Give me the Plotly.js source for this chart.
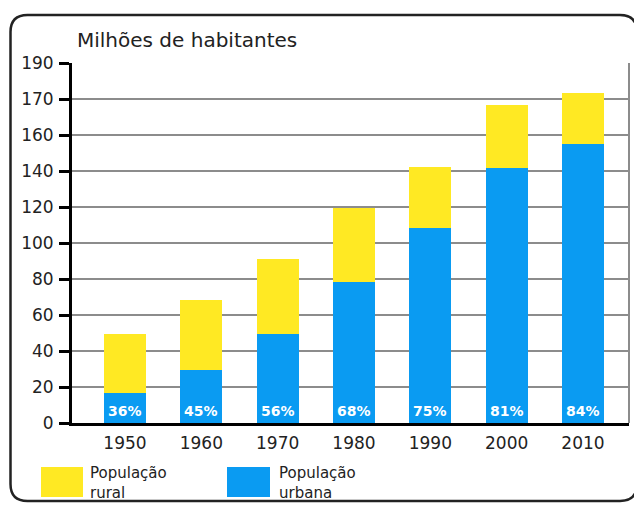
<!DOCTYPE html>
<html>
<head>
<meta charset="utf-8">
<script src="https://cdn.plot.ly/plotly-3.0.1.min.js"></script>
<style>
  html, body { margin: 0; padding: 0; background: #fff; }
  #chart { width: 634px; height: 505px; }
</style>
</head>
<body>
<div id="chart"></div>
<script>
// ---- data (in axis-position units) ----
const years = ['1950', '1960', '1970', '1980', '1990', '2000', '2010'];
const urbana = [16.9, 29.7, 49.7, 78.3, 108.6, 141.7, 155.2];
const rural = [32.8, 38.5, 41.6, 41.4, 33.6, 35.0, 28.0];
const pctUrbana = ['36%', '45%', '56%', '68%', '75%', '81%', '84%'];
const yTickVals = [0, 20, 40, 60, 80, 100, 120, 140, 160, 180, 200];
const yTickText = ['0', '20', '40', '60', '80', '100', '120', '140', '160', '170', '190'];
const titleText = 'Milhões de habitantes';
const legendRural = 'População<br>rural';
const legendUrbana = 'População<br>urbana';

// ---- style ----
const FONT = 'DejaVu Sans';
const INK = '#222222';
const YELLOW = '#FFE923';
const BLUE = '#0A9BF2';
const GRID = '#8c8c8c';

// layout geometry (pixels)
const W = 634, H = 505;
const M = { l: 72, r: 5, t: 63, b: 82 };
const PW = W - M.l - M.r, PH = H - M.t - M.b;
const px = x => (x - M.l) / PW;          // pixel -> paper x
const py = y => (H - M.b - y) / PH;      // pixel -> paper y

const traces = [
  { type: 'bar', x: years, y: urbana, name: 'População urbana',
    marker: { color: BLUE, line: { width: 0 } }, width: 0.55, hoverinfo: 'none' },
  { type: 'bar', x: years, y: rural, name: 'População rural',
    marker: { color: YELLOW, line: { width: 0 } }, width: 0.55, hoverinfo: 'none' }
];

// rounded outer frame
function roundedPath(x0, y0, x1, y1, r) {
  const X0 = px(x0), X1 = px(x1), Y0 = py(y0), Y1 = py(y1);
  const rx = r / PW, ry = r / PH;
  return `M ${X0 + rx} ${Y0} L ${X1 - rx} ${Y0} Q ${X1} ${Y0} ${X1} ${Y0 - ry} ` +
         `L ${X1} ${Y1 + ry} Q ${X1} ${Y1} ${X1 - rx} ${Y1} ` +
         `L ${X0 + rx} ${Y1} Q ${X0} ${Y1} ${X0} ${Y1 + ry} ` +
         `L ${X0} ${Y0 - ry} Q ${X0} ${Y0} ${X0 + rx} ${Y0} Z`;
}

const shapes = [
  { type: 'path', xref: 'paper', yref: 'paper', path: roundedPath(10.5, 15, 637, 501, 17),
    line: { color: INK, width: 2.5 }, layer: 'above' },
  { type: 'line', xref: 'paper', yref: 'paper', x0: 1, x1: 1, y0: 0, y1: 1,
    line: { color: GRID, width: 2 } },
  { type: 'rect', xref: 'paper', yref: 'paper', x0: px(41), x1: px(83), y0: py(497), y1: py(467),
    fillcolor: YELLOW, line: { width: 0 } },
  { type: 'rect', xref: 'paper', yref: 'paper', x0: px(227), x1: px(270), y0: py(497), y1: py(467),
    fillcolor: BLUE, line: { width: 0 } }
];

const annotations = [];
years.forEach((yr, i) => {
  // category axes place annotations by category index
  annotations.push({ x: i, y: 0, xref: 'x', yref: 'y', text: '<b>' + pctUrbana[i] + '</b>',
    showarrow: false, yanchor: 'bottom', yshift: 2,
    font: { family: FONT, size: 14, color: '#ffffff' } });
});
[[legendRural, 87.5], [legendUrbana, 276.5]].forEach(([t, xPix]) => {
  annotations.push({ xref: 'paper', yref: 'paper', x: px(xPix), y: py(482.5),
    xanchor: 'left', yanchor: 'middle', align: 'left', text: t, showarrow: false,
    font: { family: FONT, size: 15, color: INK } });
});

const layout = {
  width: W, height: H,
  margin: M,
  paper_bgcolor: '#ffffff', plot_bgcolor: '#ffffff',
  font: { family: FONT, color: INK },
  showlegend: false,
  barmode: 'stack',
  title: { text: titleText, xref: 'paper', x: px(77), xanchor: 'left',
           yref: 'container', y: 1 - 40 / H, yanchor: 'middle',
           font: { family: FONT, size: 20, color: INK } },
  xaxis: {
    type: 'category', range: [-0.694, 6.603],
    showline: true, linecolor: '#000000', linewidth: 3,
    ticks: '', showgrid: false, zeroline: false,
    tickfont: { family: FONT, size: 17, color: INK },
    ticklabelstandoff: 3, fixedrange: true
  },
  yaxis: {
    range: [0, 200], tickmode: 'array', tickvals: yTickVals, ticktext: yTickText,
    showline: true, linecolor: '#000000', linewidth: 3,
    ticks: 'outside', ticklen: 10, tickwidth: 3, tickcolor: '#000000',
    showgrid: true, gridcolor: GRID, gridwidth: 1.5, zeroline: false,
    tickfont: { family: FONT, size: 17, color: INK },
    ticklabelstandoff: 2, fixedrange: true
  },
  shapes: shapes,
  annotations: annotations
};

Plotly.newPlot('chart', traces, layout, { displayModeBar: false, staticPlot: true });
</script>
</body>
</html>
